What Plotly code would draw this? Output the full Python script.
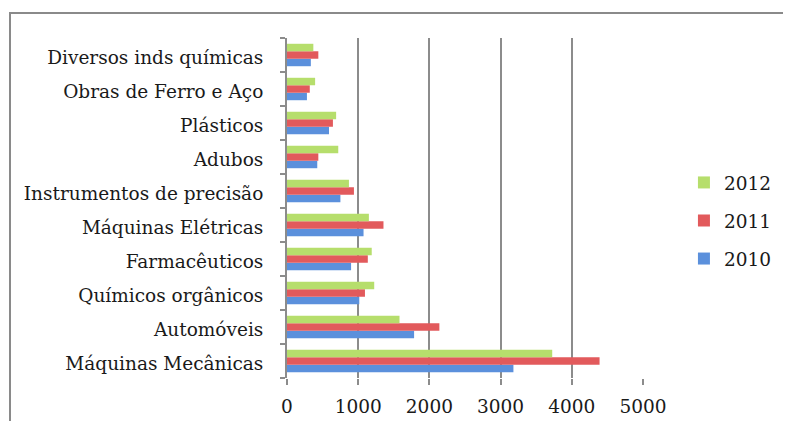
import plotly.graph_objects as go

categories = ["Máquinas Mecânicas", "Automóveis", "Químicos orgânicos", "Farmacêuticos",
              "Máquinas Elétricas", "Instrumentos de precisão", "Adubos", "Plásticos",
              "Obras de Ferro e Aço", "Diversos inds químicas"]
v2010 = [3180, 1785, 1015, 900, 1075, 750, 425, 590, 280, 335]
v2011 = [4390, 2140, 1095, 1135, 1355, 940, 440, 645, 320, 440]
v2012 = [3725, 1580, 1225, 1190, 1150, 870, 720, 690, 395, 370]
years = ["2010", "2011", "2012"]
colors = ["#5b90dc", "#e25a5c", "#b6de6c"]
x_ticks = [0, 1000, 2000, 3000, 4000, 5000]

# page body has an 8px margin; figure is sized/placed to compensate
OFF = 8
W, H = 791 - OFF, 421 - OFF
L, R, T, B = 287 - OFF, 148, 38 - OFF, 43
font = "DejaVu Serif"
fs = 18.5

fig = go.Figure()
for i, (name, vals, col) in enumerate(zip(years, [v2010, v2011, v2012], colors)):
    fig.add_trace(go.Bar(y=categories, x=vals, name=name, orientation="h",
                         marker=dict(color=col, line=dict(width=0)),
                         legendgroup=name, legendrank=10 - i))

pw = W - L - R
ph = H - T - B
fig.add_shape(type="rect", xref="paper", yref="paper",
              x0=(10 - OFF - L) / pw, x1=(W + 10 - L) / pw,
              y0=-(H + 10 - T - ph) / ph, y1=1 + (T - (13 - OFF)) / ph,
              line=dict(color="#8a8a8a", width=2), layer="below")

fig.update_layout(
    width=W, height=H,
    margin=dict(l=L, r=R, t=T, b=B, autoexpand=False),
    paper_bgcolor="white", plot_bgcolor="white",
    barmode="group", bargap=0.34, bargroupgap=0,
    font=dict(family=font, size=fs, color="#1a1a1a"),
    legend=dict(x=1.115, y=0.462, xanchor="left", yanchor="middle",
                traceorder="grouped", tracegroupgap=11,
                font=dict(family=font, size=fs, color="#1a1a1a"), itemwidth=30),
    xaxis=dict(range=[0, 5000], tickvals=x_ticks, showgrid=True, gridcolor="#8c8c8c",
               gridwidth=2, zeroline=False, showline=False, ticks="outside", ticklen=6,
               tickcolor="#8c8c8c", tickwidth=2, ticklabelstandoff=6, automargin=False,
               tickfont=dict(family=font, size=fs, color="#1a1a1a")),
    yaxis=dict(showline=True, linecolor="#8c8c8c", linewidth=2, ticks="outside",
               tickson="boundaries", ticklen=5, tickcolor="#8c8c8c", tickwidth=2,
               ticklabelstandoff=18, ticklabelshift=3, showgrid=False, automargin=False,
               tickfont=dict(family=font, size=fs, color="#1a1a1a")),
)
fig.write_html("out.html")
